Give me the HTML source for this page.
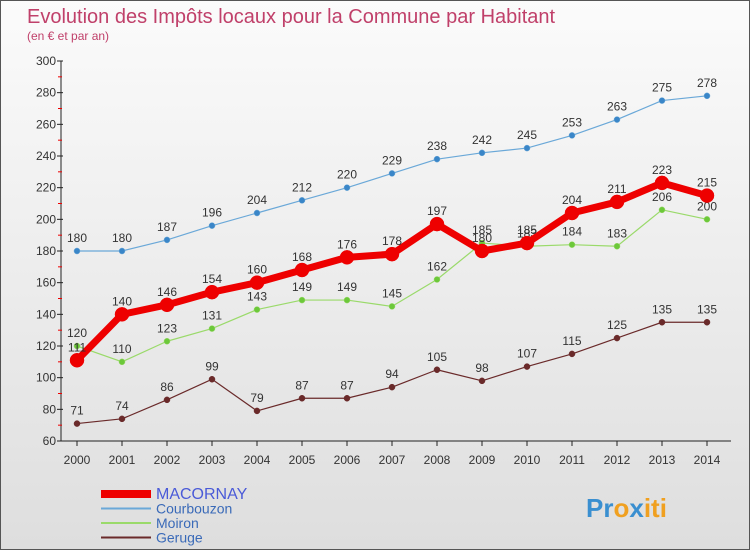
<!DOCTYPE html>
<html><head><meta charset="utf-8"><style>
body{margin:0}
#c{width:750px;height:550px;position:relative;background:linear-gradient(#fbfbfb,#dedede);font-family:"Liberation Sans",sans-serif;overflow:hidden;box-sizing:border-box;border:1px solid #555}
</style></head><body>
<div id="c">
<svg id="s" width="750" height="550" xmlns="http://www.w3.org/2000/svg">
<text x="26" y="22" font-size="20" fill="#c0406a">Evolution des Impôts locaux pour la Commune par Habitant</text>
<text x="26" y="39" font-size="12" fill="#c0406a">(en € et par an)</text>
<g id="axes"></g><g id="series"></g><g id="legend"></g>
<text x="585" y="516" font-size="26" font-weight="bold"><tspan fill="#3a8fd0">Pr</tspan><tspan fill="#f0a020">o</tspan><tspan fill="#3a8fd0">x</tspan><tspan fill="#f0a020">iti</tspan></text>
</svg></div>
<script>
const years=[2000,2001,2002,2003,2004,2005,2006,2007,2008,2009,2010,2011,2012,2013,2014];
const yTicks=[60,80,100,120,140,160,180,200,220,240,260,280,300];
const courbouzon=[180,180,187,196,204,212,220,229,238,242,245,253,263,275,278];
const moiron=[120,110,123,131,143,149,149,145,162,185,183,184,183,206,200];
const geruge=[71,74,86,99,79,87,87,94,105,98,107,115,125,135,135];
const macornay=[111,140,146,154,160,168,176,178,197,180,185,204,211,223,215];
const NS="http://www.w3.org/2000/svg";
const X=i=>76+i*45, Y=v=>440-(v-60)*380/240;
function mk(t,a,p){const e=document.createElementNS(NS,t);for(const k in a)e.setAttribute(k,a[k]);p.appendChild(e);return e;}
const ax=document.getElementById('axes');
const yl=mk('line',{x1:60,y1:60,x2:60,y2:440,stroke:'#222'},ax);

const xl=mk('line',{x1:60,y1:440,x2:730,y2:440,stroke:'#222'},ax);

yTicks.forEach((v,i)=>{const y=Y(v);mk('line',{x1:56,y1:y,x2:62,y2:y,stroke:'#222'},ax);
 if(i<yTicks.length-1)mk('line',{x1:57,y1:y-380/24,x2:61,y2:y-380/24,stroke:'#e00'},ax);
 const t=mk('text',{x:55,y:y+4,'font-size':12,fill:'#333','text-anchor':'end'},ax);t.textContent=v;
 });
years.forEach((yr,i)=>{mk('line',{x1:X(i),y1:440,x2:X(i),y2:445,stroke:'#222'},ax);
 const t=mk('text',{x:X(i),y:463,'font-size':12,fill:'#333','text-anchor':'middle'},ax);t.textContent=yr;
 });
const sg=document.getElementById('series');
function series(d,col,dot,w,r,name){const g=mk('g',{},sg);
 const p=mk('polyline',{points:d.map((v,i)=>X(i)+','+Y(v)).join(' '),fill:'none',stroke:col,'stroke-width':w,'stroke-linejoin':'round'},g);
 
 d.forEach((v,i)=>{const c=mk('circle',{cx:X(i),cy:Y(v),r:r,fill:dot,stroke:col,'stroke-width':0.5},g);
  
  const t=mk('text',{x:X(i),y:Y(v)-9,'font-size':12,fill:'#333','text-anchor':'middle'},g);t.textContent=v;
  });}
series(courbouzon,'#6aa8d8','#3a86c8',1.2,3,'courbouzon');
series(moiron,'#9ada6a','#6cc83a',1.2,3,'moiron');
series(geruge,'#6a2a2a','#6a2a2a',1.2,3,'geruge');
series(macornay,'#ee0000','#ee0000',7,7,'macornay');
const lg=document.getElementById('legend');
const items=[['MACORNAY','#ee0000',8,'#4a5ad8',16],['Courbouzon','#6aa8d8',2,'#3a6ab8',14],['Moiron','#9ada6a',2,'#3a6ab8',14],['Geruge','#6a2a2a',2,'#3a6ab8',14]];
items.forEach((it,i)=>{const y=493+i*14.5;const g=mk('g',{},lg);
 mk('line',{x1:100,y1:y,x2:150,y2:y,stroke:it[1],'stroke-width':it[2]},g);
 const t=mk('text',{x:155,y:y+5,'font-size':it[4],fill:it[3]},g);t.textContent=it[0];});
</script></body></html>
